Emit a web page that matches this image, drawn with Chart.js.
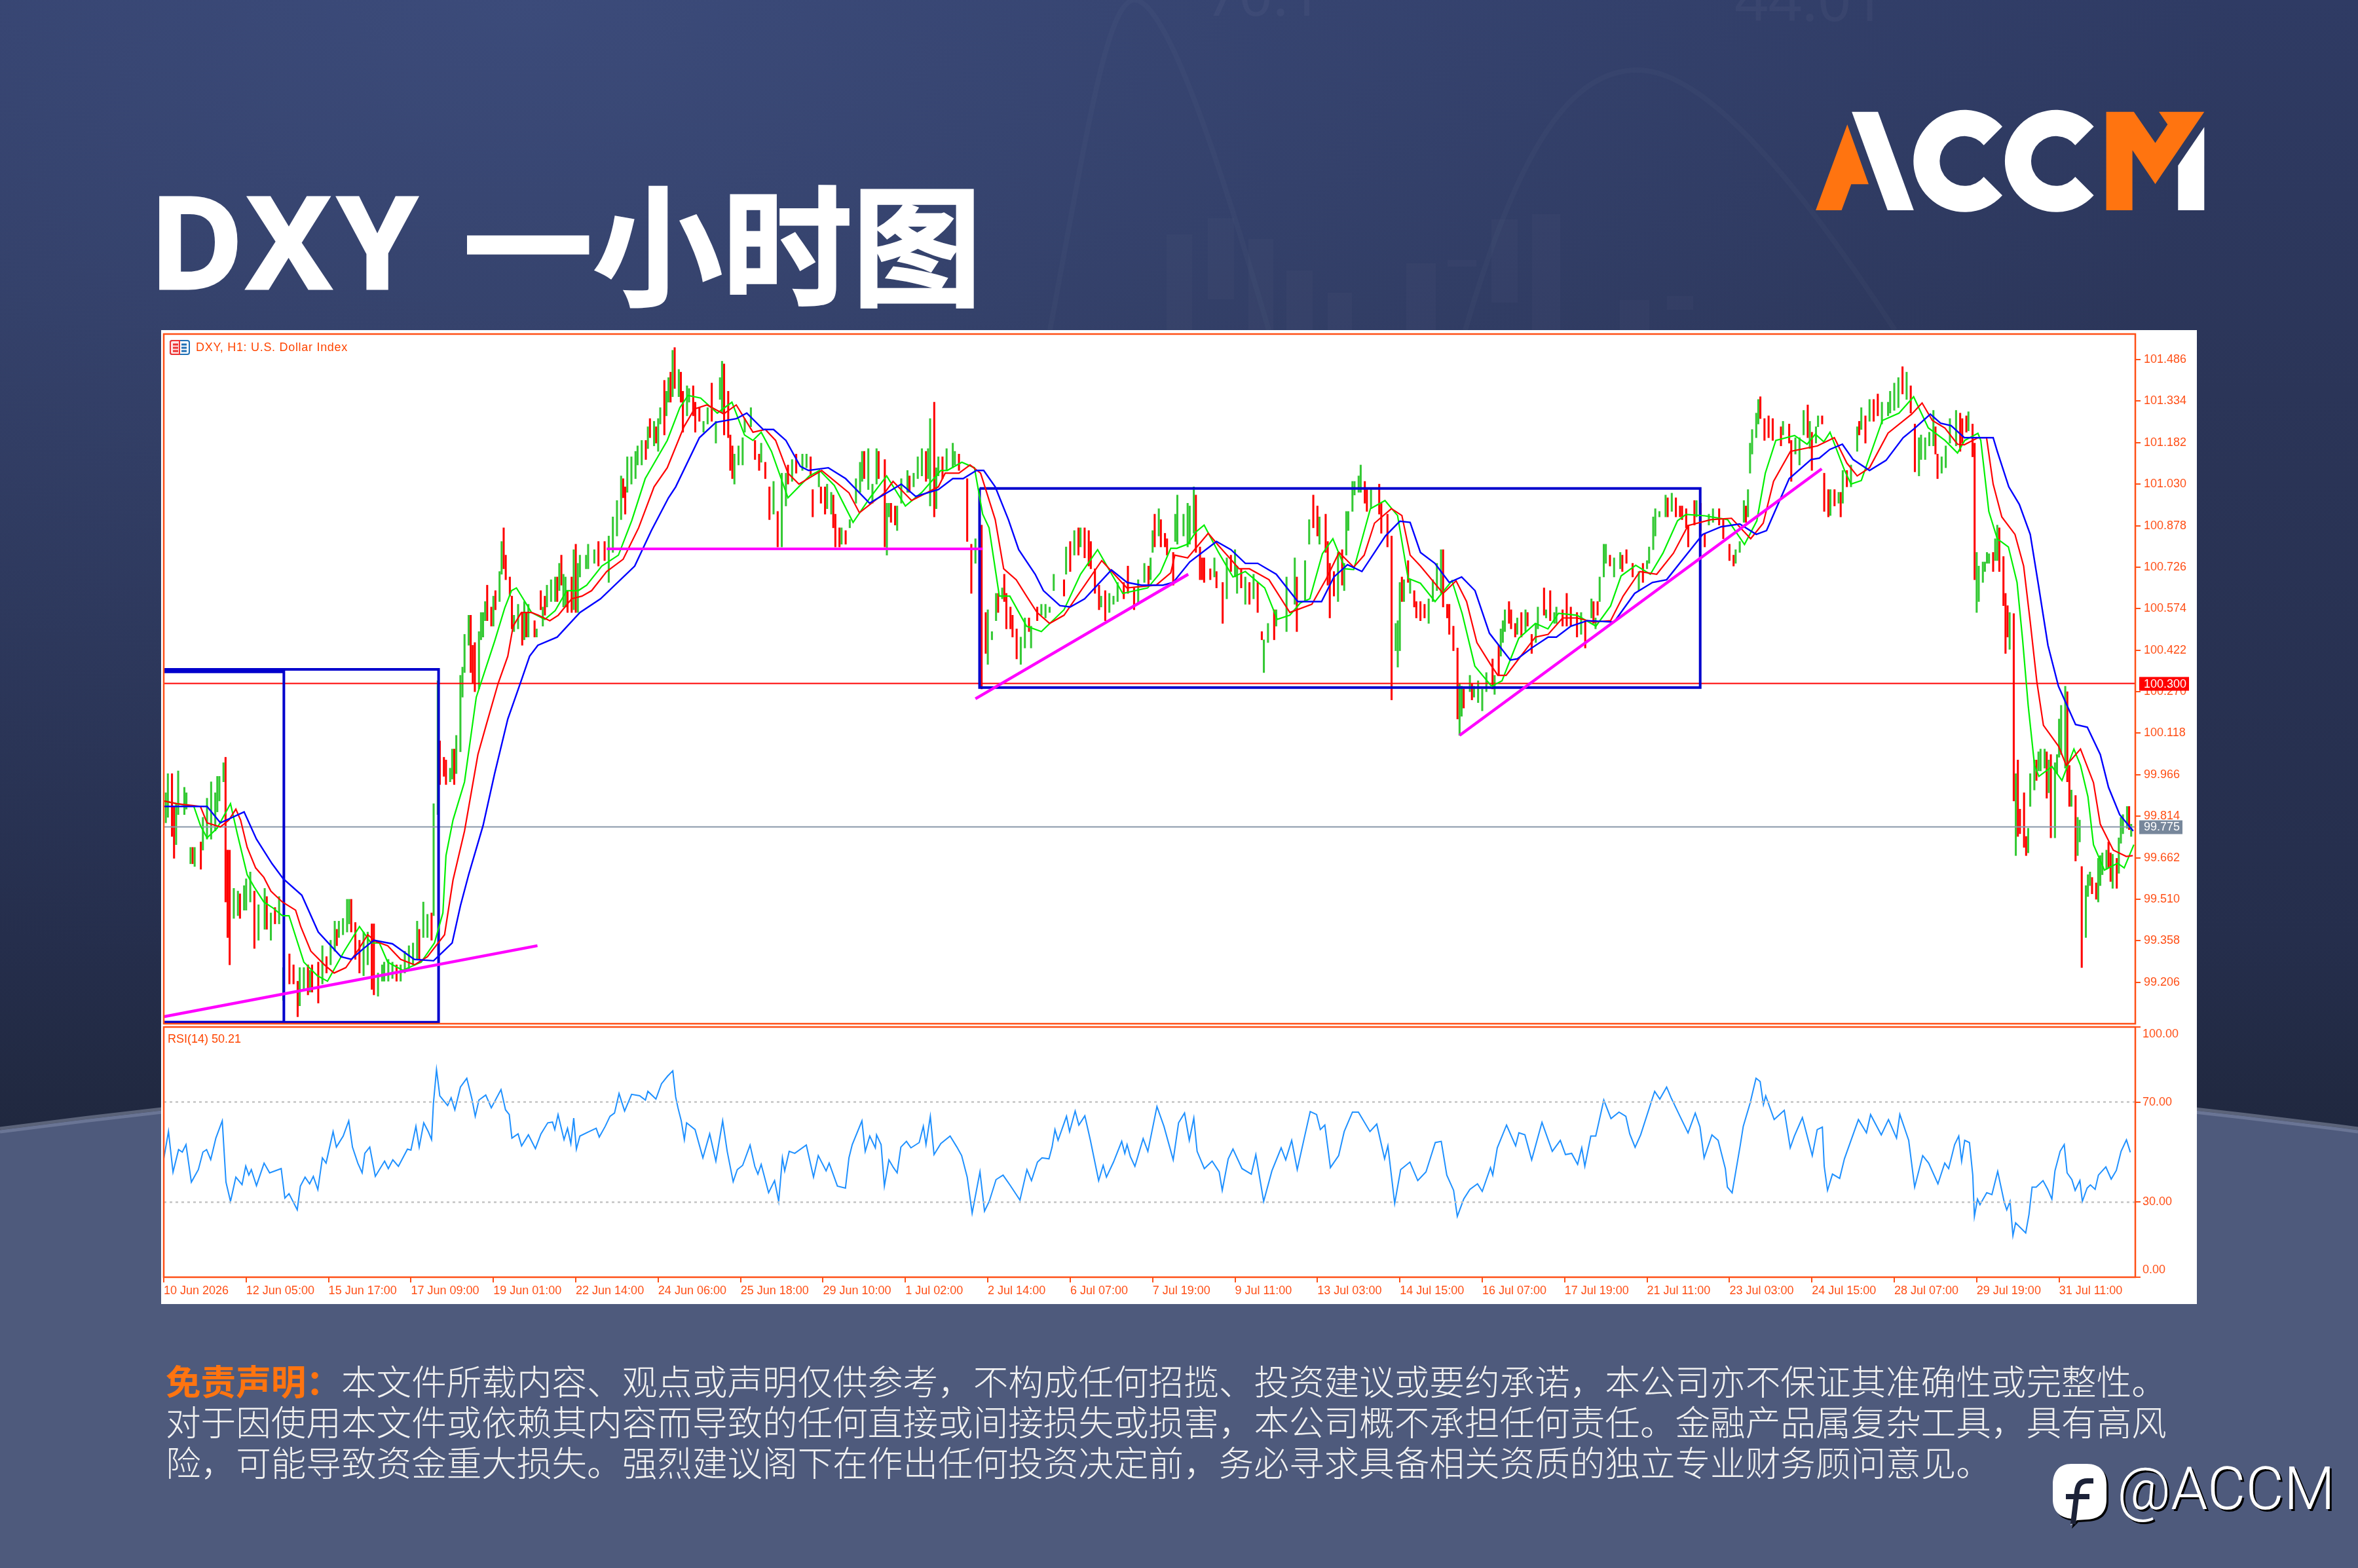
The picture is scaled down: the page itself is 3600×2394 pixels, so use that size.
<!DOCTYPE html>
<html lang="zh">
<head>
<meta charset="utf-8">
<title>DXY 一小时图</title>
<script src="https://cdn.jsdelivr.net/npm/chart.js@4"></script>
<style>
  html, body { margin: 0; padding: 0; }
  body { width: 3600px; height: 2394px; position: relative; overflow: hidden; background: radial-gradient(2600px 1500px at 800px 0, rgba(70,88,140,0.55) 0%, rgba(70,88,140,0) 100%), linear-gradient(180deg, #2f3b64 0%, #2b3558 25%, #252e4c 60%, #20283f 72%); font-family: "Noto Sans CJK SC", sans-serif; }
  .abs { position: absolute; }
  #art { left: 0; top: 0; }
  #panel { left: 246px; top: 504px; width: 3108px; height: 1487px; background: #fff; }
  #title { left: 228px; top: 225px; line-height: 280px; font-weight: 700; color: #fff; white-space: nowrap; -webkit-text-stroke: 3px #fff; }
  #title .latin { font-family: "Noto Sans", sans-serif; font-size: 196px; letter-spacing: 8px; }
  #title .han { font-size: 198px; position: absolute; left: 479px; top: 0; }
  #mainCanvas, #rsiCanvas { filter: blur(0.5px); }
  #mainCanvas { left: 246px; top: 504px; }
  #rsiCanvas { left: 246px; top: 1566px; }
  .mt { color: #ff4500; font-family: "Liberation Sans", sans-serif; font-size: 18px; line-height: 20px; white-space: nowrap; }
  #symbol { left: 299px; top: 520px; letter-spacing: 0.7px; }
  #rsiName { left: 256px; top: 1576px; }
  #icon { left: 259px; top: 519px; }
  #disclaimer { left: 253px; top: 2076px; font-size: 53.6px; line-height: 62px; color: #f1f1f1; white-space: nowrap; font-weight: 300; }
  #disclaimer b { color: #ff7410; font-weight: 700; }
  #handle { left: 3232px; top: 2214px; font-family: Roboto, sans-serif; font-weight: 300; font-size: 90px; line-height: 120px; color: #fff; text-shadow: 3px 3px 0 #000; white-space: nowrap; }
</style>
</head>
<body>
<svg id="art" class="abs" width="3600" height="2394" viewBox="0 0 3600 2394">
  <g fill="none" stroke="#ffffff" stroke-opacity="0.025" stroke-width="8">
    <path d="M1603,504 C1660,200 1690,0 1732,0 C1780,0 1860,240 1937,504"/>
    <path d="M2237,504 C2320,220 2400,107 2500,107 C2610,107 2760,300 2893,504"/>
  </g>
  <g fill="#ffffff" fill-opacity="0.018">
    <rect x="1781" y="358" width="39" height="146"/><rect x="1844" y="333" width="40" height="124"/><rect x="1906" y="365" width="38" height="139"/><rect x="1964" y="413" width="40" height="91"/><rect x="2027" y="447" width="37" height="57"/>
    <rect x="2147" y="402" width="45" height="102"/><rect x="2210" y="397" width="44" height="10"/><rect x="2277" y="335" width="40" height="127"/><rect x="2339" y="327" width="43" height="177"/><rect x="2473" y="458" width="45" height="46"/><rect x="2545" y="452" width="40" height="21"/>
  </g>
  <g fill="#ffffff" fill-opacity="0.035" font-family="'Noto Sans', sans-serif" font-size="90">
    <text x="1840" y="24">70.1</text><text x="2648" y="32">44.01</text>
  </g>
  <path d="M0,1725 Q1800,1491 3600,1725 L3600,2394 L0,2394 Z" fill="#4e5a7c"/>
  <path d="M0,1728 Q1800,1494 3600,1728" fill="none" stroke="#6a7595" stroke-width="5"/>
  <path d="M0,1723 Q1800,1489 3600,1723" fill="none" stroke="#5b6379" stroke-width="5"/>
  <polygon points="2820.3,190 2852.9,281.3 2826.3,281.3 2811.6,321 2772.1,321" fill="#ff7410"/>
  <polygon points="2827.2,170.7 2867.1,170.7 2921.8,321 2881.8,321" fill="#fff"/>
  <path id="logoC" d="M3057,193.3 A78,78 0 1 0 3057,298.3 L3028.7,270 A38,38 0 1 1 3028.7,221.7 Z" fill="#fff"/>
  <use href="#logoC" x="139.6"/>
  <polygon points="3215.6,170.7 3257.8,170.7 3290.5,218.3 3309.3,190 3296,170.7 3365.3,170.7 3290.5,281 3255.6,229.3 3255.6,321 3215.6,321" fill="#ff7410"/>
  <polygon points="3365.3,194 3365.3,321 3325.3,321 3325.3,252.7" fill="#fff"/>
  <g>
    <path d="M3164,2238 h24 c20,0 31,12 31,32 v22 c0,20 -11,30 -31,31 l-15,1 l-10,10 l3,-12 c-20,-2 -29,-12 -29,-30 v-22 c0,-20 9,-32 27,-32 Z" fill="#000"/>
    <path d="M3162,2235 h24 c20,0 30,12 30,32 v22 c0,20 -10,30 -30,31 l-15,1 l-10,8 l3,-10 c-20,-2 -30,-12 -30,-30 v-22 c0,-20 10,-32 28,-32 Z" fill="#fff"/>
    <path d="M3196,2261 h-9 c-10,0 -15,6 -16,16 l-6,50 M3154,2285 h36" fill="none" stroke="#1c2238" stroke-width="8"/>
  </g>
</svg>
<div id="panel" class="abs"></div>
<div id="title" class="abs"><span class="latin">DXY</span><span class="han">一小时图</span></div>
<canvas id="mainCanvas" class="abs" width="3108" height="1062"></canvas>
<canvas id="rsiCanvas" class="abs" width="3108" height="425"></canvas>
<svg id="icon" class="abs" width="31" height="23" viewBox="0 0 31 23">
  <rect x="1" y="1" width="29" height="21" rx="3" fill="#fff" stroke="#1f6fb5" stroke-width="2"/>
  <path d="M1,4 a3,3 0 0 1 3,-3 h11 v21 h-11 a3,3 0 0 1 -3,-3 Z" fill="#fde6e6" stroke="#e33" stroke-width="2"/>
  <g stroke-width="3"><path d="M5,7 h8 M5,12 h8 M5,17 h8" stroke="#e33"/><path d="M18,7 h8 M18,12 h8 M18,17 h8" stroke="#1f6fb5"/></g>
</svg>
<div id="symbol" class="abs mt">DXY, H1:  U.S. Dollar Index</div>
<div id="rsiName" class="abs mt">RSI(14) 50.21</div>
<div id="disclaimer" class="abs"><b>免责声明&#xFF1A;</b>本文件所载内容、观点或声明仅供参考&#xFF0C;不构成任何招揽、投资建议或要约承诺&#xFF0C;本公司亦不保证其准确性或完整性。<br>对于因使用本文件或依赖其内容而导致的任何直接或间接损失或损害&#xFF0C;本公司概不承担任何责任。金融产品属复杂工具&#xFF0C;具有高风<br>险&#xFF0C;可能导致资金重大损失。强烈建议阁下在作出任何投资决定前&#xFF0C;务必寻求具备相关资质的独立专业财务顾问意见。</div>
<div id="handle" class="abs">@ACCM</div>

<script>
// hour bars: [bar index, low, high]
const greenBars = [
[1,99.79,99.90],[2,99.81,99.97],[6,99.71,99.86],[7,99.82,99.98],[10,99.82,99.92],[11,99.84,99.90],[13,99.64,99.70],[15,99.63,99.70],[19,99.69,99.81],[21,99.73,99.88],[23,99.73,99.94],[25,99.76,99.90],[26,99.83,99.96],[27,99.87,99.96],[29,99.94,100.01],
[34,99.44,99.55],[36,99.45,99.54],[39,99.47,99.56],[40,99.47,99.585],[42,99.50,99.61],[46,99.36,99.49],[49,99.40,99.55],[52,99.36,99.46],[56,99.42,99.52],[58,99.14,99.26],[66,99.12,99.26],[68,99.18,99.26],[71,99.17,99.25],[77,99.20,99.34],
[81,99.27,99.36],[83,99.32,99.43],[85,99.37,99.43],[87,99.38,99.44],[89,99.39,99.51],[90,99.42,99.51],[97,99.23,99.39],[99,99.27,99.39],[104,99.155,99.24],[106,99.21,99.27],[107,99.21,99.28],[109,99.21,99.29],[111,99.22,99.28],[115,99.21,99.27],[117,99.24,99.32],[119,99.25,99.34],
[121,99.27,99.35],[123,99.29,99.43],[126,99.37,99.50],[128,99.37,99.455],[131,99.45,99.86],[133,99.82,100.31],[139,99.94,99.99],[140,99.95,100.06],[142,99.97,100.11],[144,100.05,100.33],[145,100.25,100.36],[146,100.34,100.48],[148,100.44,100.55],[153,100.28,100.49],[154,100.46,100.56],[155,100.47,100.56],[156,100.53,100.60],
[160,100.51,100.62],[163,100.60,100.71],[164,100.70,100.82],[170,100.49,100.55],[172,100.50,100.59],[175,100.46,100.60],[177,100.47,100.59],[181,100.47,100.50],[184,100.51,100.58],[186,100.58,100.66],[188,100.60,100.68],[190,100.60,100.69],[192,100.64,100.74],[194,100.58,100.70],[195,100.58,100.69],[199,100.57,100.79],
[201,100.56,100.74],[202,100.69,100.77],[205,100.72,100.77],[206,100.72,100.81],[209,100.74,100.79],[216,100.67,100.84],[218,100.78,100.91],[220,100.84,100.97],[222,100.90,101.06],[225,101.00,101.13],[227,101.03,101.13],[229,101.05,101.15],[230,101.10,101.17],[232,101.10,101.19],[235,101.16,101.24],[238,101.17,101.26],[240,101.15,101.27],[241,101.25,101.31],[244,101.28,101.37],[245,101.33,101.42],[247,101.35,101.52],[250,101.35,101.45],
[254,101.28,101.39],[255,101.33,101.38],[262,101.22,101.26],[264,101.25,101.31],[268,101.18,101.26],[270,101.34,101.42],[271,101.29,101.48],[277,101.03,101.14],[279,101.10,101.17],[281,101.10,101.20],[282,101.22,101.27],[285,101.24,101.31],[290,101.11,101.18],[296,100.92,101.04],[300,100.80,101.07],[302,100.95,101.07],[305,101.04,101.12],[310,101.08,101.14],[312,101.09,101.14],[318,101.02,101.08],[322,100.94,101.03],[324,100.92,101.00],[329,100.81,100.87],[333,100.87,100.90],[336,100.96,101.05],[338,101.00,101.11],[339,101.04,101.15],[342,101.01,101.16],[344,100.96,101.03],[346,101.03,101.16],[351,100.77,100.96],[352,100.91,100.96],[356,100.86,100.95],[358,100.96,101.05],[361,101.00,101.08],[364,101.02,101.07],[366,101.05,101.13],[368,101.06,101.16],[371,101.05,101.16],[372,100.95,101.27],[375,100.94,101.09],[376,101.06,101.13],[380,101.08,101.16],[383,101.09,101.18],[384,101.10,101.15],[394,100.74,100.83],
[400,100.37,100.57],[402,100.46,100.49],[404,100.53,100.63],[407,100.61,100.65],[416,100.37,100.47],[418,100.43,100.54],[421,100.43,100.51],[426,100.55,100.59],[428,100.54,100.59],[430,100.56,100.58],[432,100.64,100.70],[438,100.70,100.80],[442,100.77,100.86],[445,100.80,100.87],[455,100.58,100.62],[459,100.56,100.63],[461,100.59,100.62],[463,100.60,100.67],[473,100.59,100.68],[476,100.67,100.74],[479,100.68,100.76],[480,100.78,100.86],[483,100.84,100.94],[491,100.82,100.92],[492,100.81,100.99],[495,100.84,100.92],[497,100.80,100.96],[498,100.81,100.95],[500,100.85,101.02],[510,100.69,100.76],[516,100.61,100.76],[520,100.69,100.79],[521,100.63,100.73],[525,100.59,100.69],[529,100.61,100.70],[534,100.34,100.46],[536,100.45,100.52],[540,100.51,100.57],[545,100.49,100.69],[549,100.59,100.76],[554,100.60,100.75],
[556,100.81,100.90],[561,100.81,100.91],[570,100.60,100.78],[573,100.64,100.74],[574,100.77,100.93],[575,100.86,100.93],[577,100.93,101.04],[578,100.99,101.04],[580,101.00,101.06],[581,101.00,101.10],[586,100.94,101.01],[598,100.42,100.52],[599,100.36,100.53],[600,100.42,100.67],[602,100.60,100.68],[605,100.63,100.68],[614,100.52,100.61],[616,100.60,100.68],[618,100.64,100.74],[620,100.63,100.79],[629,100.11,100.30],[630,100.18,100.29],[634,100.27,100.33],[636,100.25,100.29],[638,100.23,100.31],[640,100.20,100.28],[642,100.27,100.34],[646,100.26,100.33],[649,100.40,100.50],[650,100.45,100.53],[651,100.49,100.57],[657,100.48,100.54],[661,100.49,100.57],[666,100.45,100.52],[667,100.50,100.58],[671,100.54,100.57],[675,100.52,100.56],[676,100.52,100.58],[688,100.48,100.56],[693,100.54,100.61],[695,100.50,100.54],[697,100.60,100.69],[699,100.69,100.81],[700,100.74,100.81],[704,100.69,100.76],[707,100.72,100.78],[716,100.64,100.71],[720,100.72,100.75],[721,100.74,100.80],[723,100.79,100.91],[724,100.84,100.94],[726,100.91,100.93],[729,100.91,100.99],[732,100.93,100.997],[744,100.91,100.97],[750,100.88,100.92],[752,100.89,100.94],[763,100.74,100.79],[765,100.78,100.82],[767,100.89,100.97],[769,100.91,101.01],[770,101.07,101.18],[771,101.14,101.23],[773,101.20,101.29],[774,101.25,101.34],[786,101.21,101.26],[792,101.14,101.20],[794,101.10,101.20],[796,101.21,101.30],[799,101.16,101.26],[802,101.18,101.24],[803,101.24,101.28],[809,100.915,101.01],[813,100.96,101.00],[815,100.96,101.08],[819,101.02,101.10],[822,101.15,101.24],[824,101.23,101.31],[828,101.26,101.34],[834,101.25,101.33],[837,101.28,101.33],[838,101.29,101.37],[840,101.30,101.40],[842,101.31,101.42],[846,101.34,101.44],
[852,101.06,101.20],[853,101.12,101.21],[855,101.12,101.20],[857,101.17,101.22],[859,101.17,101.30],[863,101.07,101.13],[865,101.09,101.17],[867,101.18,101.27],[870,101.17,101.30],
[876,101.225,101.295],[880,100.56,100.78],[881,100.60,100.73],[883,100.67,100.745],[884,100.71,100.745],[885,100.74,100.78],[886,100.74,100.775],[889,100.75,100.83],[890,100.75,100.88],[896,100.425,100.56],[899,99.67,99.97],[905,99.68,99.77],[906,99.85,99.97],[908,99.91,100.02],[910,99.98,100.05],[911,99.98,100.06],[913,99.99,100.06],[915,99.90,100.02],[918,99.735,100.01],[919,99.97,100.04],[920,100.03,100.17],[921,100.04,100.22],[923,99.99,100.29],[926,99.85,99.91],[929,99.67,99.81],[930,99.72,99.80],[933,99.37,99.56],[934,99.52,99.60],[935,99.56,99.61],[939,99.50,99.66],[940,99.56,99.67],[941,99.60,99.68],[943,99.62,99.69],[946,99.55,99.675],[949,99.605,99.735],[950,99.715,99.81],[951,99.75,99.82],[953,99.77,99.85],[955,99.74,99.785]
];
const redBars = [
[4,99.74,99.97],[5,99.66,99.85],[14,99.64,99.70],[18,99.62,99.72],[30,99.50,100.03],[31,99.37,99.69],[32,99.27,99.69],[37,99.44,99.53],[44,99.33,99.54],[50,99.40,99.52],[54,99.42,99.48],[61,99.20,99.31],[63,99.20,99.27],[65,99.08,99.21],[70,99.16,99.27],[72,99.17,99.27],[75,99.13,99.28],[79,99.24,99.30],[84,99.34,99.40],[91,99.39,99.51],[93,99.29,99.425],[95,99.24,99.36],[101,99.18,99.42],[102,99.16,99.42],[113,99.21,99.27],[124,99.29,99.40],[130,99.36,99.46],[134,99.93,100.09],[136,99.96,100.03],[137,99.93,100.02],[141,99.93,100.06],[149,100.34,100.55],[150,100.30,100.44],[151,100.27,100.45],[157,100.53,100.66],[159,100.51,100.58],[161,100.57,100.64],[165,100.72,100.87],[166,100.68,100.77],[168,100.62,100.69],[169,100.50,100.62],[174,100.44,100.56],[176,100.47,100.56],[180,100.47,100.53],[183,100.57,100.64],[185,100.55,100.62],[191,100.60,100.69],[193,100.66,100.77],[196,100.56,100.64],[198,100.56,100.69],[200,100.56,100.81],[211,100.73,100.82],[214,100.75,100.82],[223,100.98,101.05],[224,100.92,101.02],[234,101.12,101.19],[236,101.20,101.27],[239,101.18,101.24],[243,101.21,101.41],
[246,101.33,101.44],[248,101.38,101.53],[251,101.33,101.44],[252,101.22,101.37],[257,101.28,101.39],[258,101.22,101.33],[260,101.26,101.31],[266,101.26,101.40],[272,101.21,101.47],[274,101.20,101.37],[275,101.08,101.21],[276,101.05,101.17],[287,101.12,101.19],[289,101.08,101.14],[292,101.05,101.11],[294,100.90,101.02],[298,100.80,100.93],[303,101.03,101.10],[307,101.07,101.14],[314,101.06,101.13],[315,100.91,101.01],[319,100.96,101.02],[321,100.92,101.02],[325,100.87,100.99],[326,100.80,100.92],[328,100.80,100.87],[331,100.81,100.86],[340,101.05,101.15],[347,101.05,101.15],[350,100.80,101.12],[353,100.89,100.96],[355,100.88,100.95],[362,101.00,101.06],[370,101.04,101.15],[374,100.91,101.33],[378,101.05,101.13],[386,101.08,101.14],[390,100.82,101.05],[392,100.63,100.81],[397,100.28,100.88],[399,100.41,100.56],[405,100.56,100.63],[408,100.60,100.70],[409,100.50,100.63],[411,100.50,100.58],[412,100.47,100.55],[414,100.39,100.50],[420,100.49,100.54],[424,100.53,100.58],[437,100.62,100.68],[440,100.71,100.82],[444,100.77,100.87],[447,100.76,100.87],[449,100.73,100.86],[450,100.72,100.82],[452,100.63,100.72],[454,100.57,100.66],[457,100.53,100.64],[466,100.61,100.67],[468,100.63,100.73],[471,100.57,100.65],[478,100.66,100.73],[481,100.80,100.92],[484,100.80,100.90],[486,100.80,100.85],[487,100.77,100.83],[490,100.66,100.78],[501,100.78,100.99],[503,100.68,100.80],[504,100.68,100.76],[505,100.67,100.76],[508,100.68,100.72],[511,100.65,100.71],[514,100.52,100.67],[518,100.71,100.77],[523,100.65,100.72],[527,100.59,100.67],[531,100.56,100.67],[533,100.46,100.49],[539,100.46,100.57],[550,100.49,100.69],
[558,100.87,100.99],[560,100.84,100.95],[564,100.78,100.92],[565,100.66,100.82],[566,100.54,100.74],[568,100.62,100.71],[572,100.66,100.79],[583,100.96,101.04],[584,100.93,101.01],[590,100.92,101.03],[591,100.85,100.96],[594,100.80,100.92],[596,100.24,100.84],[601,100.60,100.69],[604,100.67,100.75],[607,100.58,100.64],[608,100.54,100.60],[610,100.53,100.60],[612,100.54,100.59],[621,100.58,100.79],[623,100.54,100.59],[624,100.48,100.59],[626,100.42,100.51],[628,100.17,100.43],[631,100.21,100.28],[635,100.24,100.30],[645,100.28,100.39],[648,100.33,100.44],[653,100.52,100.60],[654,100.50,100.57],[656,100.47,100.52],[659,100.47,100.56],[662,100.51,100.56],[664,100.41,100.48],[670,100.55,100.65],[673,100.53,100.64],[679,100.51,100.57],[681,100.51,100.63],[683,100.51,100.58],[686,100.47,100.56],[690,100.43,100.53],[694,100.52,100.60],[696,100.55,100.60],[702,100.73,100.77],[708,100.71,100.77],[710,100.74,100.79],[713,100.69,100.74],[718,100.67,100.74],[730,100.91,100.98],[734,100.91,100.98],[736,100.91,100.95],[737,100.90,100.95],[739,100.87,100.94],[740,100.80,100.88],[743,100.88,100.97],[746,100.86,100.96],[748,100.80,100.85],[755,100.88,100.94],[757,100.83,100.90],[760,100.75,100.81],[762,100.73,100.77],[768,100.89,100.95],[775,101.27,101.35],[777,101.19,101.27],[779,101.20,101.28],[781,101.19,101.27],[785,101.17,101.24],[789,101.18,101.25],[790,101.04,101.19],[798,101.20,101.32],[800,101.08,101.22],[805,101.25,101.28],[806,100.93,101.07],[808,100.91,101.01],[811,100.95,101.01],[814,100.91,101.00],[817,101.02,101.08],[823,101.21,101.26],[826,101.18,101.28],[830,101.26,101.34],[832,101.28,101.36],[844,101.36,101.46],[848,101.29,101.39],[850,101.075,101.25],[860,101.14,101.24],[861,101.05,101.14],[872,101.15,101.29],[873,101.18,101.27],
[875,101.22,101.28],[878,101.13,101.25],[879,100.68,101.18],[888,100.71,100.78],[891,100.71,100.87],[893,100.585,100.765],[894,100.41,100.63],[895,100.47,100.585],[898,99.87,100.556],[900,99.74,100.02],[901,99.75,99.84],[903,99.70,99.90],[904,99.67,99.74],[909,99.945,100.02],[914,99.88,100.05],[916,99.735,100.04],[924,99.94,100.27],[925,99.85,100.00],[928,99.65,99.89],[931,99.26,99.63],[936,99.53,99.59],[938,99.51,99.57],[944,99.625,99.72],[945,99.575,99.68],[948,99.55,99.66],[954,99.765,99.85]
];
// moving averages: [bar index, price]
const slowMa = [[0,99.85],[21,99.85],[27.5,99.79],[39,99.83],[45,99.73],[52.6,99.64],[58,99.585],[67,99.525],[75,99.39],[86,99.30],[91,99.29],[97,99.33],[102,99.36],[111,99.347],[121.6,99.29],[131,99.285],[140,99.35],[144,99.486],[148,99.60],[155,99.78],[160.6,99.97],[167,100.17],[173.5,100.31],[177.6,100.40],[181.6,100.44],[191,100.47],[202,100.56],[212,100.61],[228.6,100.73],[236.7,100.86],[245,100.98],[248.5,101.02],[260,101.20],[268,101.256],[278,101.27],[283,101.29],[291,101.23],[296,101.23],[302,101.19],[309,101.095],[313,101.08],[322.6,101.09],[331,101.05],[342.6,100.96],[358,101.03],[365,100.985],[376,101.01],[383,101.05],[388,101.05],[394.5,101.08],[398,101.08],[403.6,101.02],[410,100.90],[415,100.79],[423,100.70],[427,100.64],[435,100.585],[440,100.58],[447,100.61],[460,100.716],[467.6,100.67],[474.6,100.66],[485,100.66],[490,100.67],[498,100.745],[511,100.82],[518,100.79],[525,100.74],[531,100.74],[540,100.70],[550.5,100.60],[556,100.60],[562,100.60],[568,100.69],[574.6,100.735],[581.6,100.71],[593,100.84],[600,100.894],[605,100.89],[610,100.78],[617,100.74],[624,100.67],[630,100.69],[636.5,100.64],[643.5,100.484],[653.6,100.386],[657,100.39],[664,100.43],[672,100.47],[676,100.47],[683,100.51],[691,100.53],[704,100.525],[714,100.63],[722.6,100.67],[729.5,100.68],[739,100.77],[747,100.846],[756,100.874],[765,100.884],[773,100.846],[778,100.86],[789,101.05],[799.6,101.12],[803.6,101.125],[808.7,101.157],[814.8,101.176],[820,101.12],[828,101.08],[836,101.117],[844.3,101.20],[850,101.235],[857.5,101.286],[862.5,101.253],[867.6,101.244],[874,101.20],[888,101.20],[890,101.15],[895.6,101.02],[900.7,100.956],[906,100.846],[910,100.66],[914.6,100.44],[919.7,100.29],[928,100.15],[933.7,100.14],[940,100.04],[944,99.92],[949.4,99.82],[956,99.76]];
const midMa = [[0,99.87],[6.4,99.86],[17.8,99.85],[21,99.79],[27.5,99.775],[31.6,99.80],[35,99.84],[37.3,99.80],[40.5,99.70],[44.6,99.625],[48.6,99.59],[52,99.54],[57.6,99.50],[64,99.47],[66.5,99.41],[71.4,99.32],[78,99.27],[82.7,99.24],[88.4,99.26],[94,99.32],[99,99.38],[103,99.355],[108.7,99.34],[115,99.29],[121.7,99.27],[128,99.30],[136.3,99.38],[140.4,99.58],[146,99.76],[152.5,100.04],[156.6,100.15],[162.3,100.30],[167,100.40],[169.6,100.51],[173.6,100.56],[178.5,100.56],[181.8,100.55],[187.4,100.53],[191.5,100.55],[198,100.61],[203,100.62],[207.7,100.64],[215,100.71],[223,100.755],[230.5,100.87],[238,101.02],[244.4,101.09],[252.5,101.24],[257.6,101.305],[263.7,101.32],[271.8,101.287],[277.9,101.32],[286,101.22],[292,101.23],[297,101.19],[303,101.07],[308.3,101.03],[319.4,101.08],[332.6,100.998],[337.7,100.925],[349.9,100.998],[354,101.04],[363,100.97],[376,101.02],[379.3,101.07],[386,101.07],[391.4,101.10],[396.5,101.07],[403.6,100.90],[407.7,100.72],[413.8,100.68],[418.8,100.62],[423.9,100.56],[430,100.52],[437,100.55],[445.2,100.64],[455.3,100.75],[467.5,100.65],[481.7,100.66],[488.8,100.705],[490.8,100.77],[497,100.76],[507,100.85],[512,100.805],[522,100.72],[527,100.72],[536.5,100.68],[546.6,100.56],[557.3,100.59],[564.4,100.685],[570.5,100.78],[577.6,100.726],[582.7,100.77],[587.7,100.887],[595.9,100.94],[601,100.915],[605,100.77],[610,100.73],[621,100.63],[627.3,100.676],[632.4,100.60],[637.4,100.45],[644.5,100.364],[647.6,100.33],[651.6,100.33],[657.7,100.39],[665.8,100.47],[672,100.48],[679,100.54],[686,100.54],[694,100.525],[702.3,100.53],[708.4,100.62],[716.5,100.71],[724.7,100.70],[732.8,100.777],[739.9,100.878],[751,100.90],[761,100.905],[770.3,100.83],[776.4,100.887],[781.4,101.04],[789.6,101.15],[802.7,101.17],[810.9,101.20],[817,101.107],[822,101.06],[828,101.09],[837,101.217],[848.4,101.286],[853.5,101.327],[858.5,101.263],[864.6,101.235],[870.7,101.176],[874,101.174],[880.6,101.20],[884.8,101.20],[888,101.03],[892.2,100.91],[898.6,100.846],[902.8,100.73],[906,100.526],[909.2,100.307],[912.4,100.147],[919.8,100.07],[923.5,100.00],[930.4,100.06],[936.7,99.937],[940,99.785],[946.3,99.69],[952.6,99.667],[955.8,99.67]];
const fastMa = [[0,99.87],[6.4,99.86],[14.6,99.85],[17.8,99.78],[21,99.735],[25.9,99.77],[32.4,99.86],[35.7,99.75],[40.5,99.60],[43.8,99.556],[48.6,99.50],[52.7,99.48],[57.6,99.45],[60.8,99.45],[68,99.28],[74.6,99.23],[79.5,99.21],[87.6,99.32],[95,99.41],[100.6,99.35],[104.7,99.35],[108.7,99.28],[116,99.25],[125,99.28],[131.4,99.35],[135.5,99.46],[137,99.67],[140.4,99.80],[146,99.94],[151.7,100.25],[160.7,100.457],[165.5,100.576],[168.8,100.64],[171.2,100.65],[175.3,100.60],[178.5,100.56],[185,100.535],[190,100.567],[195.6,100.64],[201.2,100.64],[205.3,100.66],[212.6,100.73],[220.7,100.77],[227.2,100.897],[233.7,101.05],[238.3,101.11],[244.4,101.19],[250.5,101.31],[254.5,101.355],[260.6,101.345],[268.7,101.29],[275.8,101.33],[281.9,101.21],[286,101.19],[290,101.22],[295,101.15],[303,100.98],[313.4,101.06],[318.4,101.08],[325.5,101.025],[334.6,100.89],[342.8,100.98],[350.9,101.06],[360,100.95],[368,101.00],[377.2,101.08],[380.3,101.08],[387.4,101.11],[393.5,101.09],[397.5,100.92],[400.6,100.87],[405.6,100.62],[410.7,100.62],[418.8,100.51],[426,100.49],[437,100.57],[445,100.70],[453.3,100.79],[465.5,100.63],[477.6,100.65],[483.7,100.705],[488.8,100.795],[491.8,100.795],[497,100.81],[501,100.855],[505,100.88],[512,100.78],[519,100.69],[525,100.71],[534.4,100.65],[540.5,100.535],[546.6,100.55],[551.7,100.595],[556.3,100.61],[562.4,100.775],[567.5,100.83],[573.5,100.72],[577.6,100.717],[585.7,100.94],[592.8,100.97],[598.9,100.915],[604,100.685],[610,100.667],[617.1,100.60],[625.3,100.676],[630.3,100.555],[636.4,100.364],[644.5,100.29],[649.6,100.31],[657.7,100.465],[665.8,100.52],[671.9,100.50],[677,100.557],[686,100.55],[695.2,100.51],[702.3,100.584],[707.4,100.694],[714.5,100.733],[721.6,100.70],[727.7,100.777],[734.8,100.896],[738.9,100.919],[748,100.914],[759.1,100.90],[767.3,100.809],[773.3,100.896],[777.4,101.07],[782.5,101.19],[791.6,101.208],[797.7,101.176],[801.7,101.213],[805.8,101.185],[808.8,101.22],[815.9,101.08],[819,101.03],[824,101.043],[834.2,101.263],[842.3,101.29],[849.4,101.35],[856.5,101.236],[864.6,101.19],[870.7,101.144],[874.2,101.19],[880.6,101.216],[882,101.19],[885.9,100.93],[890,100.83],[895.4,100.80],[899.6,100.67],[902.3,100.46],[905,100.22],[908.1,100.00],[910.2,99.96],[916.6,99.996],[921.4,99.945],[927.2,100.06],[930.4,100.00],[934,99.886],[936.7,99.71],[942,99.617],[948.4,99.642],[951.6,99.625],[956.3,99.71]];
// RSI(14): [bar index, value]
const rsiLine = [[0,47.3],[2.3,58.3],[4.5,42],[7.2,51],[9,50],[10.8,53],[13.4,38],[16.8,43],[19,50],[20.8,51],[22.8,47],[25.3,55.6],[28.4,62.5],[30.2,38],[32.4,30.3],[35,40],[38,37],[39.8,44.4],[41.3,40.8],[42.5,43],[45,36.6],[48.7,45.6],[51.4,41.7],[57,43.4],[58.8,31.6],[60.8,33.4],[64.8,26.9],[66.3,36.4],[68.6,40],[70.8,37.3],[72.6,40.3],[74.8,35],[77,47.7],[78.8,45.6],[82.2,58.2],[83.8,52],[87.1,56.4],[89.8,62.5],[91.6,52],[94.2,45.6],[96.3,41.7],[97.6,49.5],[100,52],[102.7,40.3],[107.2,46.4],[109,43.4],[111.2,46.9],[113.9,44.3],[118.3,51.2],[120,50.8],[122.4,60.3],[124,52],[126.2,61.7],[128.4,58.2],[130,55],[130.9,69.5],[132.4,83],[134,72.5],[137.8,68.6],[139.5,71.7],[141.3,66.9],[144,76],[147.1,79.5],[149.6,71.2],[151.2,64.3],[153,70.8],[156.3,72.8],[159,67.7],[163.7,75],[165.9,66.9],[167.7,65],[169,55.6],[172,57.3],[173.7,52.5],[177,56.9],[180.4,51.4],[183.1,57.3],[186.4,61.7],[188.7,62],[189.8,59],[191.4,65],[194.3,55],[196,59.5],[197.6,53.4],[199,63.6],[200.3,51.2],[202,56.4],[206.5,58.2],[209.9,59.5],[211.4,56],[214.3,60.3],[216.6,64.3],[218.8,65.6],[221,73.4],[223.7,66.4],[227.1,73.1],[231,72.5],[233.8,70.8],[235,74.3],[238.9,71.2],[241.6,77.3],[244.5,80.3],[247.1,82.5],[248.5,72],[249.6,67.7],[251.2,62.5],[252.7,55],[253.8,61.7],[257.9,59],[261.7,47.7],[265,57.3],[268,46.4],[271.3,62.5],[273.5,50.3],[276.4,38.2],[278.4,43],[281,44.7],[284.6,52.8],[286.9,44.3],[288.4,41.2],[290,45.1],[293.6,33.8],[296.5,38.6],[298.5,30.3],[300.3,47.7],[301.4,42.5],[303.6,50.3],[306.3,49.5],[311.9,52.8],[315.4,40],[317.7,48.6],[321.5,42.5],[323,45.6],[327,36.4],[330.9,35.6],[332.6,47.7],[334.2,53],[338.9,62.5],[340.5,50.3],[342.7,56.4],[345.4,51.7],[346,56.9],[348.2,53],[349.8,36.4],[352,46.9],[354.2,43.8],[356,41.7],[357.8,52],[360.5,54.3],[362.7,51.7],[366.7,53.8],[368.7,60.3],[370,53],[372.1,64.3],[373.9,49],[377.2,53.4],[381.7,56.4],[385,52],[387.3,48.6],[390,40],[392.4,25.6],[396.2,42.1],[398.4,26.4],[400.7,30.3],[404,39],[407.4,40.8],[410.7,36.9],[415.6,30.8],[419,43],[421.2,38.6],[424.1,46],[426.3,47.7],[429.7,47.3],[431.2,52],[432.6,59],[434.1,54.7],[438.2,64.3],[439.7,58.2],[442.4,66.4],[444.2,60.8],[447.1,64.5],[449.8,54.7],[453.8,38.6],[456,44.7],[457.6,40],[461,46],[465,54.3],[466.5,49.5],[467.6,53],[469.2,48.2],[471.4,44.3],[475.4,55.4],[477.7,50.3],[482.1,68.2],[485.5,60.3],[490,46.9],[492.6,61.7],[495.5,65.6],[497.8,54.7],[500,63.6],[501.6,50.3],[505.1,43.4],[508.9,46.4],[512.3,42.1],[513.8,34.7],[516.7,47.3],[519,51.2],[523.4,43.4],[527.9,41.2],[530.1,49],[533.9,30.3],[537.9,42.5],[542.4,51.7],[544.6,46.9],[547.5,54.7],[550.2,43],[553.6,55.6],[556.5,66.2],[559.6,65],[561.4,59],[563.6,60.8],[566.3,43.8],[570.3,48.6],[573,58.2],[577,66],[579.9,66],[585.5,58.2],[588.8,61.2],[592.6,47.3],[594.2,52.5],[597.5,29.5],[600.4,43],[604.9,46],[608.7,38.6],[612.7,42.1],[617.2,53.8],[620.1,54.3],[622.8,40.8],[626.1,34.7],[627.9,24.3],[631,31.2],[634,35.1],[637.7,37.3],[640,34.3],[644,43.8],[645.1,40.8],[647.3,51.7],[651.8,60.8],[656.2,52.5],[657.8,57.7],[660.7,56.9],[664,46.9],[669,61.9],[674,50.3],[677.9,54.7],[680.4,49],[683.4,49.5],[686.3,45.1],[688.3,51.7],[689.8,44.3],[692.7,56.4],[695.1,56.4],[699,70.8],[702.5,63.4],[706.4,66],[709.7,64.3],[711.6,57.3],[714.2,51.9],[716.9,56.9],[723.7,74.3],[726.2,71.2],[729.5,76],[731.7,71.7],[736,64.3],[739.9,57.7],[743.4,65.6],[745.7,60],[747.7,47.7],[751.5,56.9],[754.5,54.7],[758,43.4],[759,36],[761.3,33.7],[765.2,52.5],[766.7,60.3],[770,69.5],[772.9,79.5],[774.9,78.2],[776.5,69],[777.6,72.5],[781.7,63],[786.6,66.7],[789.5,51.7],[791.5,56.4],[795.4,63.8],[800.2,48.6],[802.6,59],[805.1,60],[806,44.3],[807.6,34.7],[810,41.2],[813.5,39.5],[815.8,47.3],[822.6,63],[826.5,57.7],[828.5,65],[833.7,56.9],[837.2,63],[841.1,55.6],[842.7,65.1],[847,54.7],[849.9,36],[853.8,48.6],[856.7,45.6],[861.2,37.3],[864.5,45.6],[866.4,43.4],[869.3,53],[871.3,56.4],[872.7,46.4],[874.2,54.7],[876.5,53.8],[878.1,40.8],[878.9,24.3],[880.4,31.2],[881.6,29],[884.9,33.8],[887.4,33],[890.2,42.3],[893.3,30.3],[894.6,26.9],[896.2,30.3],[897.6,16.6],[898.9,21.7],[903.8,17.7],[905.4,25.1],[906.9,36],[908.9,36],[912.2,38.6],[914.5,35.1],[916.5,31.2],[918,42.5],[920.5,50.3],[922.5,53],[923.9,41.7],[926.2,39],[927.8,34.7],[930.1,38.6],[931.3,30.3],[933.6,35.6],[935.2,36.9],[937.5,35.1],[939.1,40.8],[942.7,44.1],[945.3,39.2],[947.8,42.7],[950.1,50.3],[952.7,54.9],[954.6,49.9]];

// objects drawn on the chart in the terminal
const boxLeft = [[0,100.343],[58.3,100.343],[58.3,99.06],[0,99.06]];
const boxWide = [[0,100.352],[133.4,100.352],[133.4,99.06],[0,99.06]];
const boxMiddle = [[396,101.014],[745.8,101.014],[745.8,100.285],[396,100.285],[396,101.014]];
const trendOne = [[0,99.08],[181.4,99.34]];
const supportFlat = [[215,100.793],[397.5,100.793]];
const trendTwo = [[394,100.244],[497.3,100.70]];
const trendThree = [[629,100.11],[804.8,101.086]];
const lastBar = 957;
const priceLevel = 100.3;
const askLevel = 99.775;

const priceTicks = [101.486,101.334,101.182,101.030,100.878,100.726,100.574,100.422,100.270,100.118,99.966,99.814,99.662,99.510,99.358,99.206];
const rsiTicks = [30,70];
const rsiEdgeTicks = [100,0];
const barsPerLabel = 40;
const timeLabels = ["10 Jun 2026","12 Jun 05:00","15 Jun 17:00","17 Jun 09:00","19 Jun 01:00","22 Jun 14:00","24 Jun 06:00","25 Jun 18:00","29 Jun 10:00","1 Jul 02:00","2 Jul 14:00","6 Jul 07:00","7 Jul 19:00","9 Jul 11:00","13 Jul 03:00","14 Jul 15:00","16 Jul 07:00","17 Jul 19:00","21 Jul 11:00","23 Jul 03:00","24 Jul 15:00","28 Jul 07:00","29 Jul 19:00","31 Jul 11:00"];

const ORANGE = "#ff4f16";
const AXIS_FONT = { family: "'Liberation Sans', sans-serif", size: 18 };
const toXY = (rows) => rows.map((r) => ({ x: r[0], y: r[1] }));
const toBars = (rows) => rows.map((r) => ({ x: r[0], y: [r[1], r[2]] }));

function barSet(rows, color) {
  return { type: "bar", data: toBars(rows), backgroundColor: color, borderWidth: 0, barThickness: 2.4, grouped: false, order: 9 };
}
function lineSet(rows, color, width, order) {
  return { type: "line", data: toXY(rows), borderColor: color, borderWidth: width, pointRadius: 0, tension: 0, fill: false, order };
}
// no room kept for the first and last tick labels, the panes sit edge to edge
function fitYAxis(s) {
  s.width = 94;
  s.paddingTop = 0;
  s.paddingBottom = 0;
}
function fitXAxis(s) {
  s.height = 41;
  s.paddingLeft = 0;
  s.paddingRight = 0;
}

const frame = {
  id: "frame",
  afterDraw(chart) {
    const { ctx, chartArea: a } = chart;
    ctx.save();
    ctx.strokeStyle = ORANGE;
    ctx.lineWidth = 2.5;
    ctx.strokeRect(a.left, a.top, a.right - a.left, a.bottom - a.top);
    ctx.restore();
  },
};

// value tags over the price axis
const priceTags = {
  id: "priceTags",
  afterDraw(chart) {
    const { ctx, scales } = chart;
    const x = scales.y.left + 6;
    [[priceLevel, "#ff0000", 76], [askLevel, "#77879b", 66]].forEach(([value, color, w]) => {
      const y = scales.y.getPixelForValue(value);
      ctx.save();
      ctx.fillStyle = color;
      ctx.fillRect(x, y - 10, w, 21);
      ctx.fillStyle = "#fff";
      ctx.font = "18px 'Liberation Sans', sans-serif";
      ctx.textBaseline = "middle";
      ctx.fillText(value.toFixed(3), x + 7, y + 1);
      ctx.restore();
    });
  },
};

// 100 and 0 sit inside the pane, not centred on their ticks
const rsiEdges = {
  id: "rsiEdges",
  afterDraw(chart) {
    const { ctx, scales } = chart;
    ctx.save();
    ctx.fillStyle = ORANGE;
    ctx.font = "18px 'Liberation Sans', sans-serif";
    ctx.textBaseline = "middle";
    rsiEdgeTicks.forEach((value) => {
      const y = scales.y.getPixelForValue(value);
      ctx.fillText(value.toFixed(2), scales.y.left + 11, value === 100 ? y + 11 : y - 11);
    });
    ctx.restore();
  },
};

const hiddenX = { type: "linear", min: 0, max: lastBar, display: false, offset: false, grid: { display: false } };

new Chart(document.getElementById("mainCanvas"), {
  data: {
    datasets: [
      barSet(greenBars, "#34c934"),
      barSet(redBars, "#ff0000"),
      lineSet([[0, priceLevel], [lastBar, priceLevel]], "#ff0000", 2, 6),
      lineSet([[0, askLevel], [lastBar, askLevel]], "#8a98aa", 2, 6),
      lineSet(boxWide, "#0000cd", 4, 3),
      lineSet(boxLeft, "#0000cd", 4, 3),
      lineSet(boxMiddle, "#0000cd", 4, 3),
      lineSet(slowMa, "#0000ff", 2.4, 2),
      lineSet(midMa, "#ff0000", 2.2, 2),
      lineSet(fastMa, "#00f000", 2.2, 2),
      lineSet(trendOne, "#ff00ff", 4.5, 1),
      lineSet(supportFlat, "#ff00ff", 4, 1),
      lineSet(trendTwo, "#ff00ff", 4.5, 1),
      lineSet(trendThree, "#ff00ff", 4.5, 1),
    ],
  },
  options: {
    responsive: false,
    animation: false,
    devicePixelRatio: 1,
    layout: { padding: { left: 4, top: 6, bottom: 3, right: 0 } },
    plugins: { legend: { display: false }, tooltip: { enabled: false } },
    scales: {
      x: hiddenX,
      y: {
        position: "right",
        min: 99.0544,
        max: 101.5795,
        afterFit: fitYAxis,
        afterBuildTicks: (s) => { s.ticks = priceTicks.map((value) => ({ value })); },
        grid: { drawOnChartArea: false, color: ORANGE, tickLength: 8, lineWidth: 2 },
        border: { color: ORANGE, width: 2 },
        ticks: { color: ORANGE, font: AXIS_FONT, padding: 5, autoSkip: false, callback: (v) => v.toFixed(3) },
      },
    },
  },
  plugins: [frame, priceTags],
});

new Chart(document.getElementById("rsiCanvas"), {
  type: "line",
  data: {
    datasets: [
      { data: toXY([[0, 70], [lastBar, 70]]), borderColor: "#c4c4c4", borderWidth: 2.5, borderDash: [4, 5], pointRadius: 0 },
      { data: toXY([[0, 30], [lastBar, 30]]), borderColor: "#c4c4c4", borderWidth: 2.5, borderDash: [4, 5], pointRadius: 0 },
      { data: toXY(rsiLine), borderColor: "#1e90ff", borderWidth: 2, pointRadius: 0, tension: 0 },
    ],
  },
  options: {
    responsive: false,
    animation: false,
    devicePixelRatio: 1,
    layout: { padding: { left: 4, top: 2, bottom: 0, right: 0 } },
    plugins: { legend: { display: false }, tooltip: { enabled: false } },
    scales: {
      x: {
        type: "linear",
        min: 0,
        max: lastBar,
        afterFit: fitXAxis,
        afterBuildTicks: (s) => { s.ticks = timeLabels.map((_, i) => ({ value: i * barsPerLabel })); },
        grid: { drawOnChartArea: false, color: ORANGE, tickLength: 8, lineWidth: 2 },
        border: { color: ORANGE, width: 2 },
        ticks: { color: ORANGE, font: AXIS_FONT, align: "start", padding: 2, autoSkip: false, maxRotation: 0, callback: (v) => timeLabels[v / barsPerLabel] },
      },
      y: {
        position: "right",
        min: 0,
        max: 100,
        afterFit: fitYAxis,
        afterBuildTicks: (s) => { s.ticks = rsiTicks.concat(rsiEdgeTicks).map((value) => ({ value })); },
        grid: { drawOnChartArea: false, color: ORANGE, tickLength: 8, lineWidth: 2 },
        border: { color: ORANGE, width: 2 },
        ticks: { color: ORANGE, font: AXIS_FONT, padding: 3, autoSkip: false, callback: (v) => (rsiTicks.includes(v) ? v.toFixed(2) : "") },
      },
    },
  },
  plugins: [frame, rsiEdges],
});
</script>
</body>
</html>
